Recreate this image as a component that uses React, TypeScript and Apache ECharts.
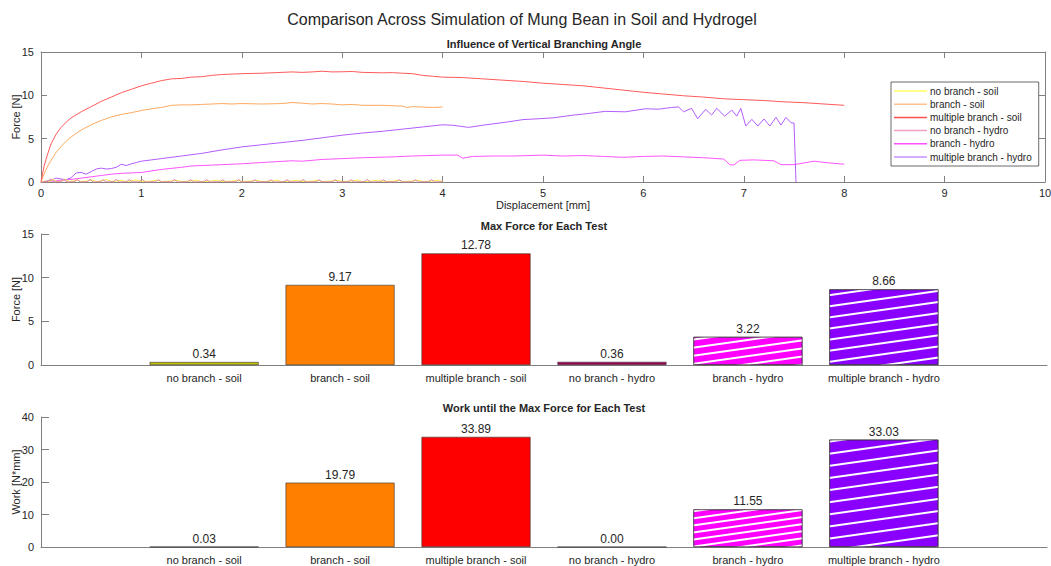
import React, { useEffect, useRef } from "react";
import * as echarts from "echarts";

// Force–displacement traces [displacement mm, force N]
const noBranchSoil: number[][] = [
  [0, 0], [0.04, 0.12], [0.08, 0.05], [0.12, 0.3], [0.16, 0.06], [0.2, 0.1], [0.24, 0.34], [0.28, 0.05],
  [0.32, 0.12], [0.36, 0.22], [0.4, 0.06], [0.45, 0.1], [0.5, 0.25], [0.55, 0.05], [0.6, 0.12], [0.65, 0.28],
  [0.7, 0.06], [0.75, 0.1], [0.8, 0.2], [0.85, 0.05], [0.9, 0.12], [0.95, 0.24], [1.0, 0.06], [1.1, 0.1],
  [1.15, 0.22], [1.2, 0.05], [1.3, 0.12], [1.35, 0.2], [1.4, 0.06], [1.5, 0.1], [1.55, 0.22], [1.6, 0.05],
  [1.7, 0.11], [1.75, 0.2], [1.8, 0.06], [1.9, 0.1], [1.95, 0.21], [2.0, 0.05], [2.1, 0.12], [2.15, 0.2],
  [2.2, 0.06], [2.3, 0.1], [2.35, 0.22], [2.4, 0.05], [2.5, 0.11], [2.55, 0.2], [2.6, 0.06], [2.7, 0.1],
  [2.75, 0.21], [2.8, 0.05], [2.9, 0.12], [2.95, 0.2], [3.0, 0.06], [3.1, 0.1], [3.15, 0.22], [3.2, 0.05],
  [3.3, 0.11], [3.35, 0.2], [3.4, 0.06], [3.5, 0.1], [3.55, 0.21], [3.6, 0.05], [3.7, 0.12], [3.75, 0.2],
  [3.8, 0.06], [3.9, 0.1], [3.95, 0.2], [4.0, 0.05],
];
const branchSoil: number[][] = [
  [0, 0], [0.03, 0.9], [0.06, 1.7], [0.1, 2.5], [0.15, 3.4], [0.2, 4.1], [0.25, 4.7], [0.3, 5.2],
  [0.4, 6.0], [0.5, 6.6], [0.6, 7.1], [0.7, 7.5], [0.8, 7.8], [0.9, 8.0], [1.0, 8.25], [1.1, 8.45],
  [1.2, 8.6], [1.3, 8.85], [1.4, 8.9], [1.5, 8.9], [1.6, 8.95], [1.7, 9.0], [1.8, 9.05], [1.9, 9.0],
  [2.0, 9.05], [2.2, 9.0], [2.4, 9.05], [2.5, 9.17], [2.6, 9.1], [2.7, 9.0], [2.8, 9.05], [2.9, 9.0],
  [3.0, 8.9], [3.1, 8.95], [3.2, 8.85], [3.4, 8.85], [3.5, 8.8], [3.6, 8.75], [3.65, 8.6], [3.7, 8.7],
  [3.8, 8.65], [3.9, 8.6], [4.0, 8.65],
];
const multipleBranchSoil: number[][] = [
  [0, 0], [0.03, 1.8], [0.06, 3.0], [0.1, 4.4], [0.15, 5.5], [0.2, 6.3], [0.25, 6.9], [0.3, 7.4],
  [0.4, 8.1], [0.5, 8.7], [0.6, 9.3], [0.7, 9.8], [0.8, 10.3], [0.9, 10.7], [1.0, 11.1], [1.1, 11.4],
  [1.2, 11.7], [1.3, 11.9], [1.4, 11.95], [1.5, 12.1], [1.6, 12.15], [1.7, 12.3], [1.8, 12.4], [1.9, 12.45],
  [2.0, 12.5], [2.2, 12.55], [2.4, 12.65], [2.5, 12.7], [2.6, 12.65], [2.7, 12.7], [2.8, 12.78], [2.9, 12.7],
  [3.0, 12.72], [3.1, 12.75], [3.2, 12.65], [3.4, 12.6], [3.5, 12.62], [3.6, 12.55], [3.7, 12.5], [3.8, 12.3],
  [3.9, 12.2], [4.0, 12.1], [4.2, 12.05], [4.4, 11.9], [4.6, 11.75], [4.8, 11.6], [5.0, 11.4], [5.2, 11.25],
  [5.4, 11.1], [5.6, 10.85], [5.8, 10.6], [6.0, 10.35], [6.2, 10.15], [6.4, 9.95], [6.6, 9.8], [6.8, 9.6],
  [7.0, 9.5], [7.2, 9.4], [7.4, 9.25], [7.6, 9.15], [7.8, 9.0], [8.0, 8.85],
];
const noBranchHydro: number[][] = [
  [0, 0], [0.06, 0.02], [0.1, 0.36], [0.13, 0.01], [0.2, 0.02], [0.23, 0.3], [0.26, 0.0], [0.33, 0.02],
  [0.36, 0.28], [0.39, 0.01], [0.46, 0.02], [0.49, 0.3], [0.52, 0.0], [0.59, 0.02], [0.62, 0.26], [0.65, 0.01],
  [0.72, 0.02], [0.75, 0.3], [0.78, 0.0], [0.85, 0.02], [0.88, 0.27], [0.91, 0.01], [0.98, 0.02], [1.01, 0.3],
  [1.04, 0.0], [1.14, 0.02], [1.17, 0.26], [1.2, 0.01], [1.3, 0.02], [1.33, 0.28], [1.36, 0.0], [1.46, 0.02],
  [1.49, 0.26], [1.52, 0.01], [1.62, 0.02], [1.65, 0.27], [1.68, 0.0], [1.78, 0.02], [1.81, 0.26], [1.84, 0.01],
  [1.94, 0.02], [1.97, 0.28], [2.0, 0.0], [2.1, 0.02], [2.13, 0.26], [2.16, 0.01], [2.26, 0.02], [2.29, 0.27],
  [2.32, 0.0], [2.42, 0.02], [2.45, 0.26], [2.48, 0.01], [2.58, 0.02], [2.61, 0.28], [2.64, 0.0], [2.74, 0.02],
  [2.77, 0.26], [2.8, 0.01], [2.9, 0.02], [2.93, 0.27], [2.96, 0.0], [3.06, 0.02], [3.09, 0.26], [3.12, 0.01],
  [3.22, 0.02], [3.25, 0.28], [3.28, 0.0], [3.38, 0.02], [3.41, 0.26], [3.44, 0.01], [3.54, 0.02], [3.57, 0.27],
  [3.6, 0.0], [3.7, 0.02], [3.73, 0.26], [3.76, 0.01], [3.86, 0.02], [3.89, 0.27], [3.92, 0.0], [4.0, 0.02],
];
const branchHydro: number[][] = [
  [0, 0], [0.1, 0.1], [0.2, 0.2], [0.3, 0.3], [0.4, 0.45], [0.5, 0.6], [0.6, 0.75], [0.7, 0.9],
  [0.8, 1.0], [0.9, 1.05], [1.0, 1.1], [1.2, 1.45], [1.4, 1.7], [1.5, 1.85], [1.7, 1.95], [2.0, 2.1],
  [2.2, 2.25], [2.5, 2.45], [2.6, 2.4], [2.8, 2.6], [3.0, 2.7], [3.2, 2.8], [3.5, 2.9], [3.7, 3.0],
  [4.0, 3.1], [4.15, 3.1], [4.2, 2.75], [4.3, 2.95], [4.5, 3.0], [4.7, 3.0], [5.0, 3.1], [5.2, 3.0],
  [5.4, 3.05], [5.6, 2.95], [5.8, 2.85], [6.0, 2.95], [6.2, 3.0], [6.4, 2.9], [6.6, 2.8], [6.8, 2.65],
  [6.86, 2.0], [6.9, 1.95], [6.96, 2.5], [7.1, 2.55], [7.3, 2.45], [7.37, 2.0], [7.5, 2.0], [7.7, 2.4],
  [7.85, 2.2], [8.0, 2.05],
];
const multipleBranchHydro: number[][] = [
  [0, 0], [0.05, 0.1], [0.1, 0.2], [0.15, 0.45], [0.2, 0.35], [0.25, 0.25], [0.3, 0.5], [0.35, 1.05],
  [0.4, 1.1], [0.45, 0.9], [0.5, 1.2], [0.55, 1.5], [0.6, 1.6], [0.65, 1.5], [0.7, 1.55], [0.75, 1.7],
  [0.8, 2.05], [0.85, 1.9], [0.9, 2.1], [0.95, 2.25], [1.0, 2.4], [1.2, 2.7], [1.4, 3.0], [1.6, 3.3],
  [1.8, 3.7], [2.0, 4.05], [2.2, 4.3], [2.4, 4.55], [2.6, 4.8], [2.8, 5.1], [3.0, 5.4], [3.2, 5.65],
  [3.4, 5.85], [3.6, 6.1], [3.8, 6.35], [4.0, 6.6], [4.1, 6.55], [4.26, 6.3], [4.4, 6.55], [4.63, 6.9],
  [4.8, 7.2], [4.96, 7.3], [5.1, 7.4], [5.29, 7.7], [5.45, 7.9], [5.62, 8.15], [5.82, 8.1], [6.02, 8.45],
  [6.15, 8.4], [6.28, 8.6], [6.35, 8.66], [6.4, 8.1], [6.48, 8.5], [6.54, 7.3], [6.62, 8.38], [6.68, 7.73],
  [6.73, 8.5], [6.81, 7.6], [6.88, 8.3], [6.93, 7.6], [6.97, 8.5], [7.02, 6.46], [7.08, 7.23], [7.14, 6.46],
  [7.2, 7.27], [7.26, 6.46], [7.32, 7.46], [7.37, 6.57], [7.42, 7.46], [7.47, 6.84], [7.5, 6.8], [7.52, 0],
];

const testNames = [
  "no branch - soil",
  "branch - soil",
  "multiple branch - soil",
  "no branch - hydro",
  "branch - hydro",
  "multiple branch - hydro",
];
const traces = [noBranchSoil, branchSoil, multipleBranchSoil, noBranchHydro, branchHydro, multipleBranchHydro];
const lineColors = ["#f4f040", "#ffa860", "#ff5a5a", "#e07aa6", "#ff55ff", "#b45cff"];
const legendColors = ["#ffff60", "#ffc090", "#ff5050", "#f0a0c8", "#ff50ff", "#c890ff"];

const maxForce = [0.34, 9.17, 12.78, 0.36, 3.22, 8.66];
const workToMax = [0.03, 19.79, 33.89, 0.0, 11.55, 33.03];
const barColors = ["#c4c400", "#ff8000", "#ff0000", "#a0004f", "#ff00ff", "#8a00ff"];
// stripe gap (px) for hatched bars in each chart; 0 = solid
const forceHatchGap = [0, 0, 0, 0, 5.5, 9];
const workHatchGap = [0, 0, 0, 0, 5, 10];

const axisGrey = "#808080";
const textDark = "#262626";
const font = "Liberation Sans, Arial, Helvetica, sans-serif";

function barData(values: number[], gaps: number[]) {
  return values.map((v, i) => ({
    value: [i + 1, v],
    itemStyle: {
      color: barColors[i],
      borderColor: "#333",
      borderWidth: 0.6,
      decal: gaps[i]
        ? {
            symbol: "rect",
            symbolSize: 1,
            dashArrayX: [1, 0],
            dashArrayY: [1.6, gaps[i]],
            rotation: -0.14,
            color: "#ffffff",
          }
        : undefined,
    },
  }));
}

function barXAxis(gridIndex: number) {
  return {
    type: "value",
    gridIndex,
    min: -0.2,
    max: 7.2,
    axisLine: { show: true, onZero: false, lineStyle: { color: axisGrey, width: 1 } },
    axisTick: { show: false },
    splitLine: { show: false },
    axisLabel: {
      customValues: [1, 2, 3, 4, 5, 6],
      formatter: (v: number) => testNames[Math.round(v) - 1] ?? "",
      color: textDark,
      fontSize: 11,
      fontFamily: font,
      margin: 7,
    },
  };
}

function barYAxis(gridIndex: number, max: number, interval: number, name: string) {
  return {
    type: "value",
    gridIndex,
    min: 0,
    max,
    interval,
    name,
    nameLocation: "middle",
    nameGap: 20,
    nameMoveOverlap: false,
    nameTextStyle: { color: textDark, fontSize: 11, fontFamily: font },
    axisLine: { show: true, onZero: false, lineStyle: { color: axisGrey, width: 1 } },
    axisTick: { show: true, inside: true, length: 8, lineStyle: { color: axisGrey } },
    splitLine: { show: false },
    axisLabel: { color: textDark, fontSize: 11, fontFamily: font, margin: 7 },
  };
}

function barSeries(idx: number, values: number[], gaps: number[]) {
  return {
    type: "bar",
    xAxisIndex: idx,
    yAxisIndex: idx,
    barWidth: 109,
    data: barData(values, gaps),
    label: {
      show: true,
      position: "top",
      distance: 2,
      color: textDark,
      fontSize: 12,
      fontFamily: font,
      formatter: (p: any) => p.value[1].toFixed(2),
    },
  };
}

export default function App() {
  const ref = useRef<HTMLDivElement>(null);

  useEffect(() => {
    if (!ref.current) return;
    const chart = echarts.init(ref.current, undefined, { renderer: "svg" });

    const titleText = (text: string, x: number, y: number, size: number, bold: boolean) => ({
      type: "text",
      x,
      y,
      style: {
        text,
        fill: textDark,
        font: `${bold ? "bold " : ""}${size}px ${font}`,
        textAlign: "center",
        textVerticalAlign: "middle",
      },
    });

    chart.setOption({
      animation: false,
      backgroundColor: "#ffffff",
      textStyle: { fontFamily: font },
      graphic: [
        titleText("Comparison Across Simulation of Mung Bean in Soil and Hydrogel", 522, 19, 16, false),
        titleText("Influence of Vertical Branching Angle", 544, 44, 11, true),
        titleText("Max Force for Each Test", 544, 226, 11, true),
        titleText("Work until the Max Force for Each Test", 544, 408, 11, true),
      ],
      grid: [
        { left: 41, right: 6, top: 52, height: 130, outerBoundsMode: "none", containLabel: false },
        { left: 41, right: 4, top: 234, height: 131, outerBoundsMode: "none", containLabel: false },
        { left: 41, right: 4, top: 417, height: 130, outerBoundsMode: "none", containLabel: false },
      ],
      legend: {
        data: testNames.map((n, i) => ({ name: n, itemStyle: { color: legendColors[i] } })),
        left: 891,
        top: 82,
        orient: "vertical",
        icon: "rect",
        itemWidth: 33,
        itemHeight: 1.5,
        itemGap: 3.2,
        padding: [4, 7, 4, 3],
        borderColor: "#444",
        borderWidth: 0.8,
        backgroundColor: "#ffffff",
        textStyle: { fontSize: 10, color: textDark, fontFamily: font, padding: [0, 0, 0, -2] },
      },
      xAxis: [
        {
          type: "value",
          gridIndex: 0,
          min: 0,
          max: 10,
          interval: 1,
          name: "Displacement [mm]",
          nameLocation: "middle",
          nameGap: 17,
          nameMoveOverlap: false,
          nameTextStyle: { color: textDark, fontSize: 11, fontFamily: font },
          axisLine: { show: true, onZero: false, lineStyle: { color: axisGrey, width: 1 } },
          axisTick: { show: true, inside: true, length: 6, lineStyle: { color: axisGrey } },
          splitLine: { show: false },
          axisLabel: { color: textDark, fontSize: 11, fontFamily: font, margin: 5 },
        },
        {
          type: "value",
          gridIndex: 0,
          position: "top",
          min: 0,
          max: 10,
          interval: 1,
          axisLine: { show: true, onZero: false, lineStyle: { color: axisGrey, width: 1 } },
          axisTick: { show: true, inside: true, length: 6, lineStyle: { color: axisGrey } },
          splitLine: { show: false },
          axisLabel: { show: false },
        },
        barXAxis(1),
        barXAxis(2),
      ],
      yAxis: [
        {
          type: "value",
          gridIndex: 0,
          min: 0,
          max: 15,
          interval: 5,
          name: "Force [N]",
          nameLocation: "middle",
          nameGap: 20,
          nameMoveOverlap: false,
          nameTextStyle: { color: textDark, fontSize: 11, fontFamily: font },
          axisLine: { show: true, onZero: false, lineStyle: { color: axisGrey, width: 1 } },
          axisTick: { show: true, inside: true, length: 6, lineStyle: { color: axisGrey } },
          splitLine: { show: false },
          axisLabel: { color: textDark, fontSize: 11, fontFamily: font, margin: 7 },
        },
        {
          type: "value",
          gridIndex: 0,
          position: "right",
          min: 0,
          max: 15,
          interval: 5,
          axisLine: { show: true, onZero: false, lineStyle: { color: axisGrey, width: 1 } },
          axisTick: { show: true, inside: true, length: 6, lineStyle: { color: axisGrey } },
          splitLine: { show: false },
          axisLabel: { show: false },
        },
        barYAxis(1, 15, 5, "Force [N]"),
        barYAxis(2, 40, 10, "Work [N*mm]"),
      ],
      series: [
        ...traces.map((d, i) => ({
          name: testNames[i],
          type: "line",
          xAxisIndex: 0,
          yAxisIndex: 0,
          data: d,
          showSymbol: false,
          symbol: "none",
          color: lineColors[i],
          lineStyle: { width: 1, color: lineColors[i] },
          z: i === 0 || i === 3 ? 3 : 2,
        })),
        barSeries(2, maxForce, forceHatchGap),
        barSeries(3, workToMax, workHatchGap),
      ],
    });

    return () => chart.dispose();
  }, []);

  return (
    <div
      ref={ref}
      style={{ position: "fixed", left: 0, top: 0, width: 1051, height: 566 }}
    />
  );
}
